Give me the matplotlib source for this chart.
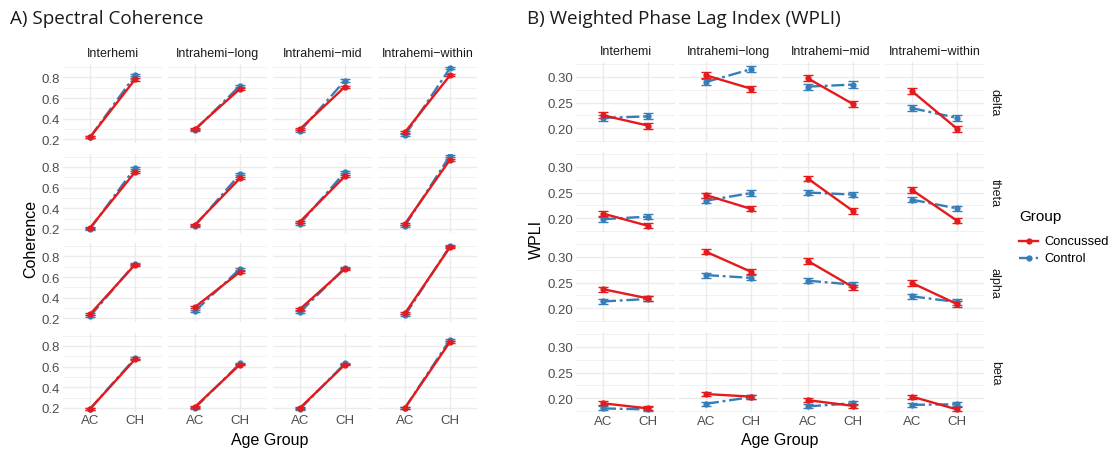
import matplotlib.pyplot as plt
from matplotlib.lines import Line2D
from matplotlib.ticker import FixedLocator

# ---- data ----
bands = ['delta', 'theta', 'alpha', 'beta']
regions = ['Interhemi', 'Intrahemi\u2212long', 'Intrahemi\u2212mid', 'Intrahemi\u2212within']
ages = ['AC', 'CH']
groups = ['Concussed', 'Control']

# coherence [band][region] = [AC, CH]
coh_concussed = [
    [[0.22, 0.78], [0.30, 0.69], [0.30, 0.71], [0.27, 0.82]],
    [[0.21, 0.75], [0.24, 0.69], [0.27, 0.71], [0.25, 0.87]],
    [[0.24, 0.72], [0.31, 0.65], [0.29, 0.68], [0.25, 0.89]],
    [[0.19, 0.67], [0.21, 0.62], [0.20, 0.62], [0.20, 0.84]],
]
coh_control = [
    [[0.22, 0.82], [0.29, 0.72], [0.28, 0.77], [0.24, 0.89]],
    [[0.20, 0.79], [0.23, 0.73], [0.25, 0.75], [0.23, 0.91]],
    [[0.22, 0.73], [0.27, 0.68], [0.26, 0.69], [0.23, 0.90]],
    [[0.19, 0.68], [0.20, 0.63], [0.19, 0.63], [0.20, 0.86]],
]
coh_se = [0.010, 0.010, 0.009, 0.008]

# WPLI [band][region] = [AC, CH]
wpli_concussed = [
    [[0.225, 0.205], [0.303, 0.277], [0.297, 0.247], [0.272, 0.199]],
    [[0.209, 0.185], [0.245, 0.218], [0.277, 0.214], [0.255, 0.195]],
    [[0.237, 0.219], [0.310, 0.271], [0.292, 0.241], [0.249, 0.208]],
    [[0.190, 0.180], [0.208, 0.203], [0.196, 0.185], [0.203, 0.178]],
]
wpli_control = [
    [[0.220, 0.223], [0.290, 0.315], [0.281, 0.285], [0.239, 0.220]],
    [[0.198, 0.203], [0.234, 0.249], [0.250, 0.246], [0.236, 0.219]],
    [[0.213, 0.218], [0.2645, 0.259], [0.2535, 0.246], [0.223, 0.212]],
    [[0.180, 0.178], [0.189, 0.202], [0.184, 0.190], [0.187, 0.188]],
]
wpli_se = [0.006, 0.005, 0.005, 0.004]

RED = '#E41A1C'
BLUE = '#377EB8'
GRID = '#EBEBEB'
TICK = '#4D4D4D'
FONT = ['Liberation Sans', 'DejaVu Sans']
TITLE_FONT = ['Open Sans', 'DejaVu Sans']
DASHDOT = (0, (5.5, 1.6, 1.2, 1.6))

W, H = 1114, 456
fig = plt.figure(figsize=(W / 100, H / 100), dpi=100)
fig.patch.set_facecolor('white')


def px_axes(left, top, w, h):
    return fig.add_axes([left / W, 1 - (top + h) / H, w / W, h / H])


def px_text(x, y, s, **kw):
    fig.text(x / W, 1 - y / H, s, **kw)


def draw_grid(measure_conc, measure_ctrl, se, col_lefts, row_tops, pw, ph,
              ylim, majors, minors, fmt, strip_right):
    for r in range(4):
        for c in range(4):
            ax = px_axes(col_lefts[c], row_tops[r], pw, ph)
            ax.set_xlim(0.4, 2.6)
            ax.set_ylim(*ylim)
            for s in ax.spines.values():
                s.set_visible(False)
            ax.yaxis.set_major_locator(FixedLocator(majors))
            ax.yaxis.set_minor_locator(FixedLocator(minors))
            ax.set_xticks([1, 2])
            ax.grid(True, which='major', color=GRID, lw=1.0)
            ax.grid(True, which='minor', axis='y', color=GRID, lw=0.5)
            ax.set_axisbelow(True)
            ax.tick_params(which='both', length=0, colors=TICK, labelsize=9.5, pad=2)
            if c == 0:
                ax.set_yticklabels([fmt % v for v in majors], family=FONT)
            else:
                ax.set_yticklabels([])
            if r == 3:
                ax.set_xticklabels(ages, family=FONT)
            else:
                ax.set_xticklabels([])

            for vals, color, ls in ((measure_ctrl[r][c], BLUE, DASHDOT),
                                    (measure_conc[r][c], RED, '-')):
                ax.errorbar([1, 2], vals, yerr=se[r], color=color, ls=ls, lw=1.7,
                            marker='o', ms=3.5, capsize=3.5, elinewidth=1.0,
                            capthick=1.0)

            if r == 0:
                ax.text(0.5, 1.06, regions[c], transform=ax.transAxes,
                        ha='center', va='bottom', fontsize=9, color='#1A1A1A',
                        family=FONT)
            if strip_right and c == 3:
                ax.text(1.05, 0.5, bands[r], transform=ax.transAxes,
                        ha='left', va='center', rotation=-90, fontsize=9,
                        color='#1A1A1A', family=FONT)


# ---- Panel A: Spectral Coherence ----
draw_grid(coh_concussed, coh_control, coh_se,
          col_lefts=[63, 168, 273, 378], row_tops=[65, 154.5, 244, 333.5],
          pw=99, ph=79, ylim=(0.165, 0.93),
          majors=[0.2, 0.4, 0.6, 0.8], minors=[0.3, 0.5, 0.7, 0.9],
          fmt='%.1f', strip_right=False)

# ---- Panel B: WPLI ----
draw_grid(wpli_concussed, wpli_control, wpli_se,
          col_lefts=[576, 679, 781, 885], row_tops=[63, 153, 243, 333],
          pw=99, ph=80, ylim=(0.173, 0.329),
          majors=[0.20, 0.25, 0.30], minors=[0.175, 0.225, 0.275, 0.325],
          fmt='%.2f', strip_right=True)

# titles and axis labels
px_text(10, 19, 'A) Spectral Coherence', fontsize=13.6, family=TITLE_FONT,
        ha='left', va='center', color='#1A1A1A')
px_text(527, 19, 'B) Weighted Phase Lag Index (WPLI)', fontsize=13.6,
        family=TITLE_FONT, ha='left', va='center', color='#1A1A1A')
px_text(270, 441, 'Age Group', fontsize=11.5, family=FONT, ha='center', va='center')
px_text(780, 441, 'Age Group', fontsize=11.5, family=FONT, ha='center', va='center')
px_text(31, 239, 'Coherence', fontsize=11.5, family=FONT, ha='center',
        va='center', rotation=90)
px_text(536, 239, 'WPLI', fontsize=11.5, family=FONT, ha='center',
        va='center', rotation=90)

# legend, placed by hand
px_text(1019, 217, 'Group', fontsize=11, family=FONT, ha='left', va='center')
leg_y = [242, 259]
leg_style = [(RED, '-'), (BLUE, DASHDOT)]
for name, y, (color, ls) in zip(groups, leg_y, leg_style):
    fig.add_artist(Line2D([1019 / W, 1038 / W], [1 - y / H, 1 - y / H],
                          color=color, ls=ls, lw=1.7))
    fig.add_artist(Line2D([1028.5 / W], [1 - y / H], color=color, marker='o',
                          ms=3.5, ls='none'))
    px_text(1044, y, name, fontsize=9.3, family=FONT, ha='left', va='center')

fig.savefig('out.png', dpi=100)
